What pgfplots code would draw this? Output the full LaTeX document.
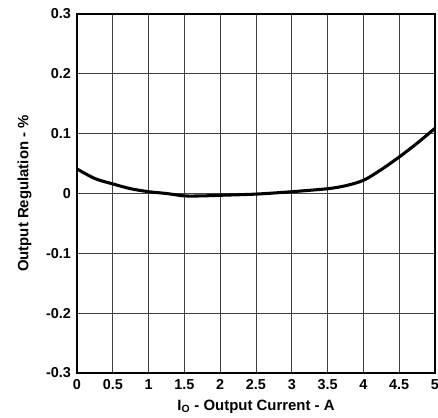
\documentclass[border=0pt]{standalone}
\usepackage{pgfplots}
\pgfplotsset{compat=1.18}
\usepackage{fontspec}
\setmainfont{Liberation Sans}
\begin{document}
\begin{tikzpicture}
\begin{axis}[
  name=main,
  scale only axis,
  width=268.5pt, height=269.25pt,
  xmin=0, xmax=5, ymin=-0.3, ymax=0.3,
  xtick={0,0.5,...,5},
  ytick={-0.3,-0.2,...,0.3},
  xticklabels={0,0.5,1,1.5,2,2.5,3,3.5,4,4.5,5},
  yticklabels={-0.3,-0.2,-0.1,0,0.1,0.2,0.3},
  tick style={draw=none},
  grid=major,
  major grid style={line width=0.7pt, color=black!75},
  axis line style={line width=1.2pt, black},
  ticklabel style={font=\fontsize{10.8}{12}\selectfont\bfseries},
  yticklabel style={xshift=-1pt},
  xticklabel style={yshift=-1.5pt},
  label style={font=\fontsize{11.2}{13}\selectfont\bfseries},
  xlabel={I\textsubscript{O} - Output Current - A},
  ylabel={Output Regulation - \%},
  xlabel style={yshift=-0.5pt},
  ylabel style={yshift=4pt},
]
\addplot[line width=2.3pt, black, smooth, tension=0.5] coordinates {
  (0,0.041) (0.25,0.025) (0.5,0.016) (0.75,0.008) (1,0.003) (1.25,0.0) (1.5,-0.004) (1.75,-0.004)
  (2,-0.003) (2.5,-0.001) (3,0.003) (3.5,0.008) (3.75,0.013) (4,0.022) (4.25,0.040) (4.5,0.061) (4.75,0.084) (5,0.109)
};
\end{axis}
\pgfresetboundingbox
\path ([xshift=-57.75pt,yshift=-33pt]main.south west) rectangle ([xshift=2.25pt,yshift=10.5pt]main.north east);
\end{tikzpicture}
\end{document}
